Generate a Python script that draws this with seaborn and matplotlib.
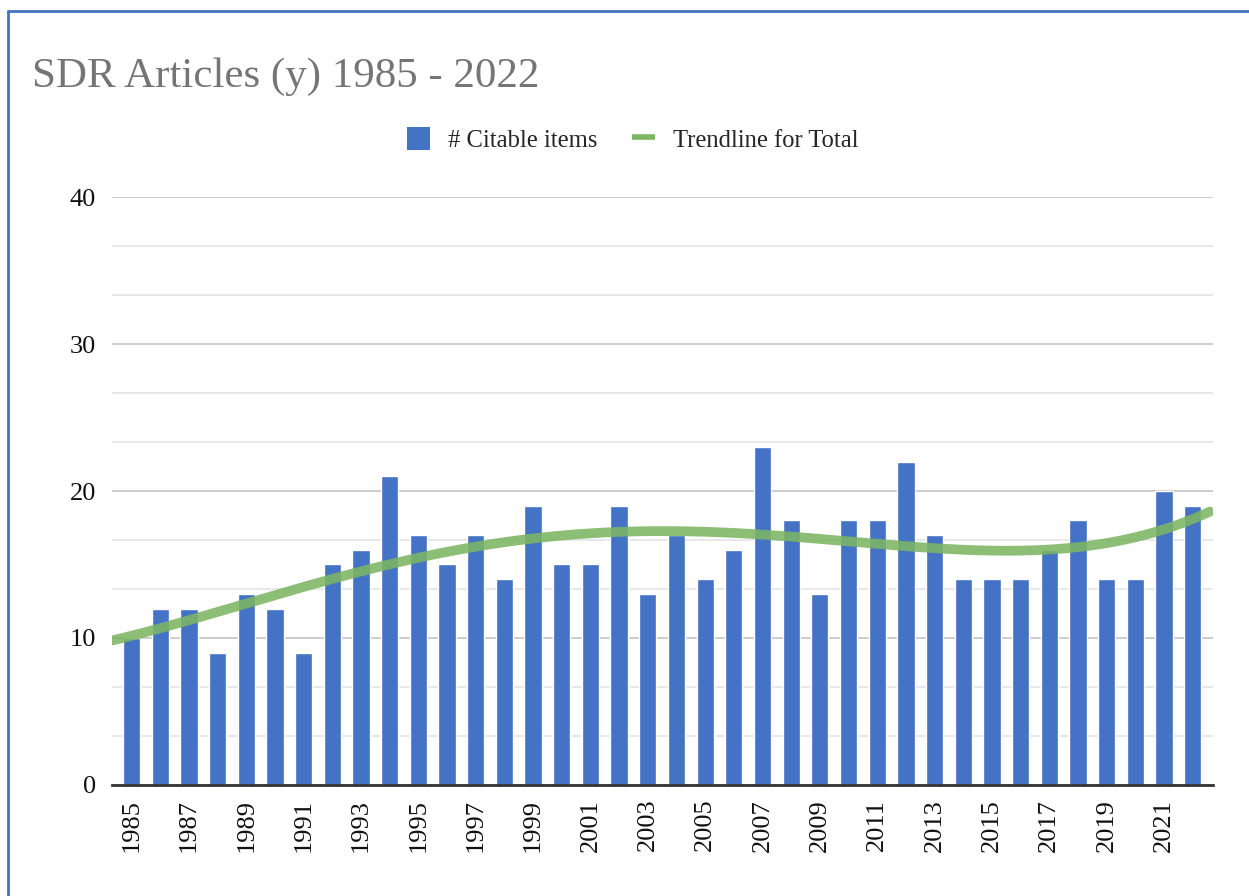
import numpy as np
import pandas as pd
import matplotlib
matplotlib.use("Agg")
import matplotlib.pyplot as plt
import seaborn as sns
from matplotlib.lines import Line2D
from matplotlib.patches import Patch

# Datos
years = list(range(1985, 2023))
citable_items = [10, 12, 12, 9, 13, 12, 9, 15, 16, 21,
                 17, 15, 17, 14, 19, 15, 15, 19, 13, 17,
                 14, 16, 23, 18, 13, 18, 18, 22, 17, 14,
                 14, 14, 16, 18, 14, 14, 20, 19]
year_labels = [str(y) if (y - 1985) % 2 == 0 else "" for y in years]

BLUE = "#4472C4"
GREEN = "#7CB563"
df = pd.DataFrame({"year": [str(y) for y in years], "items": citable_items})

sns.set_style("white")
plt.rcParams["font.family"] = ["Liberation Serif", "DejaVu Serif"]

fig = plt.figure(figsize=(12.49, 8.96), dpi=100)
ax = fig.add_axes([0.0897, 0.124, 0.8813, 0.656])

sns.barplot(data=df, x="year", y="items", color=BLUE, width=0.6,
            saturation=1, ax=ax, zorder=2)

# Trendline (polinomio de grado 4 sobre el total)
idx = np.arange(len(years))
coef = np.polyfit(idx, citable_items, 4)
xs = np.linspace(-0.68, len(years) - 0.4, 300)
trend = pd.DataFrame({"x": xs, "y": np.polyval(coef, xs)})
sns.lineplot(data=trend, x="x", y="y", color=GREEN, lw=7, alpha=0.88,
             ax=ax, zorder=3)

ax.set_xlim(-0.68, len(years) - 0.3)
ax.set_ylim(0, 40)
ax.set_yticks([0, 10, 20, 30, 40])
ax.set_yticks(np.arange(0, 40, 10 / 3), minor=True)
ax.grid(axis="y", which="major", color="#c8c8c8", lw=1.3, zorder=0)
ax.grid(axis="y", which="minor", color="#e6e6e6", lw=1.3, zorder=0)
ax.set_xticks(idx)
ax.set_xticklabels(year_labels, rotation=90)
ax.tick_params(axis="both", which="both", length=0, labelsize=19,
               labelcolor="#111111")
ax.tick_params(axis="y", pad=11.5)
ax.tick_params(axis="x", pad=10)
for s in ["top", "right", "left"]:
    ax.spines[s].set_visible(False)
ax.spines["bottom"].set_color("#333333")
ax.spines["bottom"].set_linewidth(2)
ax.spines["bottom"].set_zorder(4)
ax.set_xlabel("")
ax.set_ylabel("")

fig.text(0.026, 0.914, "SDR Articles (y) 1985 - 2022", fontsize=31,
         color="#757575", va="center", ha="left")

handles = [Patch(facecolor=BLUE, edgecolor="none"),
           Line2D([0], [0], color=GREEN, lw=4, solid_capstyle="butt")]
fig.legend(handles, ["# Citable items", "Trendline for Total"],
           loc="center", bbox_to_anchor=(0.5064, 0.844), ncol=2,
           frameon=False, fontsize=17.7, handlelength=0.95, handleheight=1.05,
           columnspacing=1.4, handletextpad=0.73)

# Borde azul de la captura
fig.add_artist(Line2D([0.0065, 0.0065], [0, 0.9875], color=BLUE, lw=2,
                      transform=fig.transFigure))
fig.add_artist(Line2D([0.0065, 1], [0.9875, 0.9875], color=BLUE, lw=2,
                      transform=fig.transFigure))

fig.savefig("out.png", dpi=100)
